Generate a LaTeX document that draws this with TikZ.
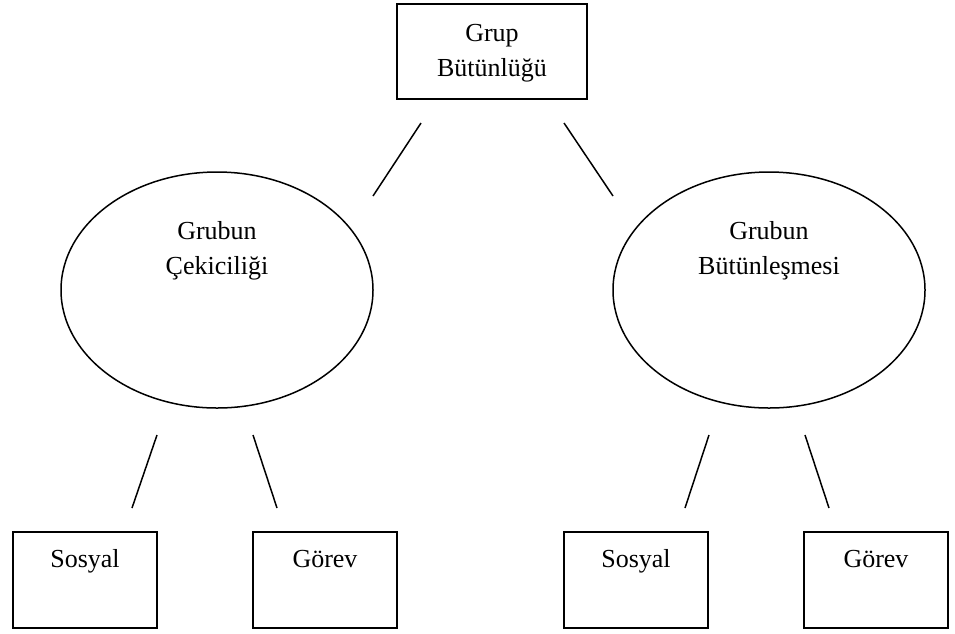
\documentclass[tikz,border=0pt]{standalone}
\usepackage{fontspec}
\setmainfont{Liberation Serif}
\usetikzlibrary{shapes.geometric}
\begin{document}
\begin{tikzpicture}[x=1pt,y=-1pt,
  box/.style={draw,line width=2.2pt,rectangle,inner sep=0pt},
  oval/.style={draw,line width=1.5pt,ellipse,inner sep=0pt,minimum width=312pt,minimum height=236pt},
  txt/.style={font=\fontsize{26}{35}\selectfont,align=center,inner sep=0pt},
  link/.style={line width=1.5pt}]
\useasboundingbox (0,0) rectangle (955,633);
% top
\node[box,minimum width=190pt,minimum height=95pt] (top) at (492,51.5) {};
\node[txt] (toptxt) at (492,53) {Grup\\Bütünlüğü};
% ellipses
\node[oval] (el) at (217,290) {};
\node[txt] (eltxt) at (217,251) {Grubun\\Çekiciliği};
\node[oval] (er) at (769,290) {};
\node[txt] (ertxt) at (769,251) {Grubun\\Bütünleşmesi};
% bottom boxes
\node[box,minimum width=144pt,minimum height=96pt] (b1) at (85,580) {};
\node[txt,text height=18pt,text depth=6pt] (b1t) at (85,561) {Sosyal};
\node[box,minimum width=144pt,minimum height=96pt] (b2) at (325,580) {};
\node[txt,text height=18pt,text depth=6pt] (b2t) at (325,561) {Görev};
\node[box,minimum width=144pt,minimum height=96pt] (b3) at (636,580) {};
\node[txt,text height=18pt,text depth=6pt] (b3t) at (636,561) {Sosyal};
\node[box,minimum width=144pt,minimum height=96pt] (b4) at (876,580) {};
\node[txt,text height=18pt,text depth=6pt] (b4t) at (876,561) {Görev};
% connector end points
\coordinate (a1) at (421,123); \coordinate (a2) at (373,196);
\coordinate (c1) at (564,123); \coordinate (c2) at (613,196);
\coordinate (d1) at (157,435); \coordinate (d2) at (132,508);
\coordinate (e1) at (253,435); \coordinate (e2) at (277,508);
\coordinate (f1) at (709,435); \coordinate (f2) at (685,508);
\coordinate (g1) at (805,435); \coordinate (g2) at (829,508);
\draw[link] (a1) -- (a2);
\draw[link] (c1) -- (c2);
\draw[link] (d1) -- (d2);
\draw[link] (e1) -- (e2);
\draw[link] (f1) -- (f2);
\draw[link] (g1) -- (g2);
\end{tikzpicture}
\end{document}
